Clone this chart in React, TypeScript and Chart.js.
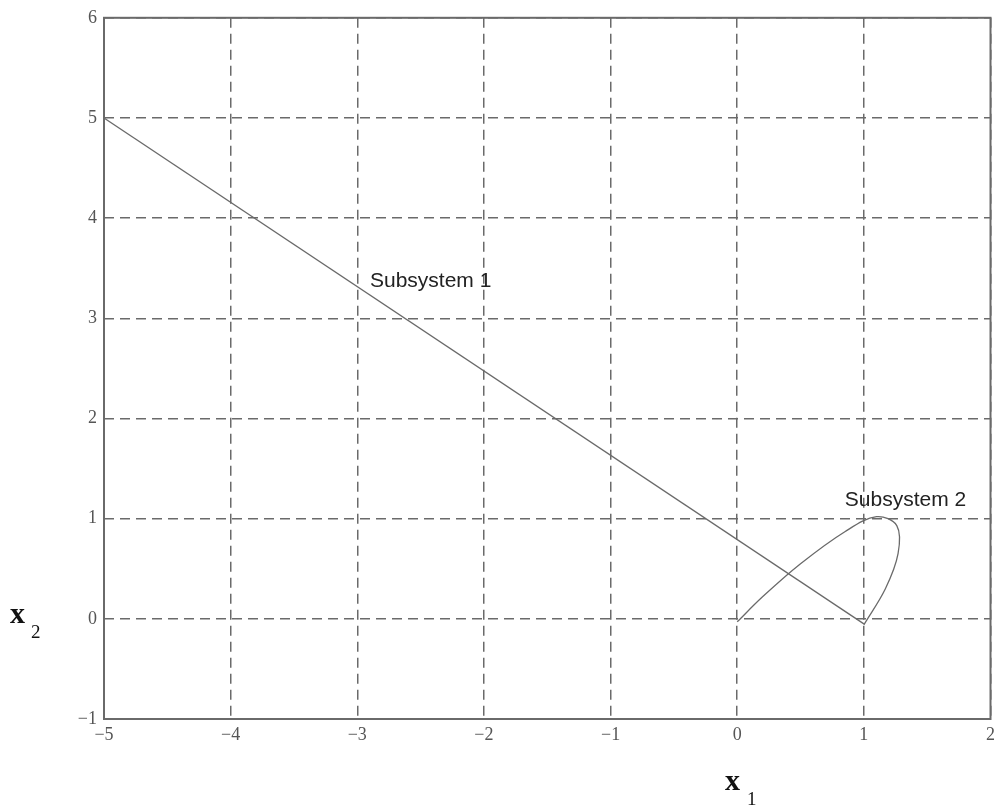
import React, { useEffect, useRef } from "react";
import { Chart, registerables } from "chart.js";

Chart.register(...registerables);

const X_RANGE = [-5, 2];
const Y_RANGE = [-1, 6];
const X_TICKS = [-5, -4, -3, -2, -1, 0, 1, 2];
const Y_TICKS = [-1, 0, 1, 2, 3, 4, 5, 6];

const sub1X = [-5, 1];
const sub1Y = [5, -0.05];

const sub2X = [0, 0.2, 0.5, 0.85, 1.1, 1.26, 1.27, 1.17, 1.0];
const sub2Y = [-0.03, 0.22, 0.55, 0.87, 1.02, 0.93, 0.65, 0.3, -0.06];

const labelTexts = ["Subsystem 1", "Subsystem 2"];
const labelX = [-2.9, 0.85];
const labelY = [3.31, 1.13];

const GRAY = "#6a6a6a";

export default function App() {
  const ref = useRef<HTMLCanvasElement | null>(null);

  useEffect(() => {
    if (!ref.current) return;
    const fmt = (v: any) => {
      const n = Number(v);
      return n < 0 ? "\u2212" + Math.abs(n) : String(n);
    };

    const overlay = {
      id: "overlay",
      afterDraw(chart: any) {
        const { ctx, chartArea, scales } = chart;
        ctx.save();
        ctx.strokeStyle = GRAY;
        ctx.lineWidth = 2;
        ctx.setLineDash([]);
        ctx.strokeRect(chartArea.left, chartArea.top, chartArea.right - chartArea.left, chartArea.bottom - chartArea.top);
        ctx.fillStyle = "#222";
        ctx.font = "21px 'Liberation Sans', Arial, sans-serif";
        ctx.textBaseline = "alphabetic";
        ctx.textAlign = "left";
        labelTexts.forEach((t, i) => {
          ctx.fillText(t, scales.x.getPixelForValue(labelX[i]), scales.y.getPixelForValue(labelY[i]));
        });
        ctx.fillStyle = "#111";
        ctx.font = "bold 30px 'Liberation Serif', 'Times New Roman', serif";
        ctx.fillText("x", 10, 623);
        ctx.fillText("x", 725, 790);
        ctx.font = "19px 'Liberation Serif', 'Times New Roman', serif";
        ctx.fillText("2", 31, 638);
        ctx.fillText("1", 747, 805);
        ctx.restore();
      },
    };

    const tickFont = { family: "'Liberation Serif', 'Times New Roman', serif", size: 18 };

    const chart = new Chart(ref.current, {
      type: "scatter",
      data: {
        datasets: [
          {
            label: "Subsystem 1",
            data: sub1X.map((x, i) => ({ x, y: sub1Y[i] })),
            showLine: true,
            borderColor: GRAY,
            borderWidth: 1.3,
            pointRadius: 0,
            tension: 0,
          },
          {
            label: "Subsystem 2",
            data: sub2X.map((x, i) => ({ x, y: sub2Y[i] })),
            showLine: true,
            borderColor: GRAY,
            borderWidth: 1.3,
            pointRadius: 0,
            tension: 0.35,
          },
        ],
      },
      options: {
        responsive: false,
        animation: false,
        layout: { padding: { left: 0, top: 17, right: 6, bottom: 0 } },
        plugins: { legend: { display: false }, tooltip: { enabled: false } },
        scales: {
          x: {
            type: "linear",
            min: X_RANGE[0],
            max: X_RANGE[1],
            afterBuildTicks: (s: any) => {
              s.ticks = X_TICKS.map((v) => ({ value: v }));
            },
            afterFit: (s: any) => {
              s.height = 91;
            },
            grid: { color: GRAY, lineWidth: 1.5, drawTicks: false },
            border: { display: false, dash: [10, 6] },
            ticks: { color: "#555", padding: 5, maxRotation: 0, font: tickFont, callback: fmt },
          },
          y: {
            type: "linear",
            min: Y_RANGE[0],
            max: Y_RANGE[1],
            afterBuildTicks: (s: any) => {
              s.ticks = Y_TICKS.map((v) => ({ value: v }));
            },
            afterFit: (s: any) => {
              s.width = 104;
            },
            grid: { color: GRAY, lineWidth: 1.5, drawTicks: false },
            border: { display: false, dash: [10, 6] },
            ticks: { color: "#555", padding: 7, font: tickFont, callback: fmt },
          },
        },
      },
      plugins: [overlay],
    } as any);
    return () => chart.destroy();
  }, []);

  return (
    <div style={{ position: "absolute", left: 0, top: 0, width: 1000, height: 810, background: "#fff" }}>
      <canvas ref={ref} width={1000} height={810} />
    </div>
  );
}
